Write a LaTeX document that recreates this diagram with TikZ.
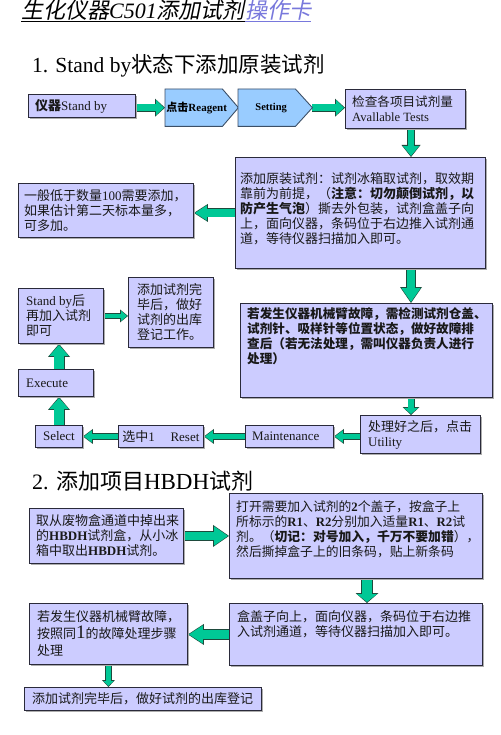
\documentclass[tikz,border=0pt]{standalone}
\usepackage{fontspec}
\setmainfont{Liberation Serif}
\newfontfamily\cjk{Noto Sans CJK SC}
\newfontfamily\cjkit{Noto Sans CJK SC}[FakeSlant=0.2]
\usetikzlibrary{arrows.meta,shadows,calc,backgrounds}
\definecolor{boxfill}{HTML}{CCCCFF}
\definecolor{boxline}{HTML}{2A2A3A}
\definecolor{pentfill}{HTML}{99CCFF}
\definecolor{pentline}{HTML}{3C4F66}
\definecolor{arrgreen}{HTML}{00C896}
\definecolor{arrline}{HTML}{1E4A3C}
\definecolor{ttblue}{HTML}{7878DC}
\newcommand\zh[1]{{\cjk #1}}
\newcommand\barr[5]{%
  \pgfmathsetmacro\bsA{#1-1.6}%
  \pgfmathsetmacro\bwA{#2-2.8}%
  \pgfmathsetmacro\blA{#3-2.2}%
  \draw[draw=arrline, line width=#1pt, -{Triangle[width=#2pt, length=#3pt, line width=0pt]}] #4 -- #5;
  \draw[draw=arrgreen, line width=\bsA pt, shorten >=1.1pt, -{Triangle[width=\bwA pt, length=\blA pt, line width=0pt]}] #4 -- #5;
}
\begin{document}
\begin{tikzpicture}[x=1pt,y=-1pt,
  box/.style={draw=boxline, line width=0.9pt, fill=boxfill, inner sep=0pt, anchor=north west,
    drop shadow={shadow xshift=1.3pt, shadow yshift=-1.3pt, fill=black!32, opacity=1}},
  txt/.style={inner sep=0pt, align=left, font=\fontsize{13}{15}\selectfont, text=black!90},
  pent/.style={draw=pentline, line width=0.9pt, fill=pentfill},
  hold/.style={inner sep=0pt, anchor=north west}]
\useasboundingbox (0,0) rectangle (500,735);
\begin{scope}[on background layer]
\fill[white] (0,0) rectangle (500,735);
\end{scope}

% title
\node[anchor=base west, inner sep=0pt, font=\fontsize{22}{26}\selectfont] (tA) at (21,19) {\cjkit 生化仪器{\rmfamily\itshape C501}添加试剂};
\node[anchor=base west, inner sep=0pt, font=\fontsize{22}{26}\selectfont, text=ttblue] (tB) at (tA.base east) {\cjkit 操作卡};
\draw[line width=1pt] ([yshift=-3pt]tA.base west) -- ([yshift=-3pt]tA.base east);
\draw[line width=1pt, ttblue] ([yshift=-3pt]tB.base west) -- ([yshift=-3pt]tB.base east);

% headings
\node[anchor=base west, inner sep=0pt, font=\fontsize{21.5}{26}\selectfont] (h1) at (32,73) {1. Stand by\zh{状态下添加原装试剂}};
\node[anchor=base west, inner sep=0pt, font=\fontsize{22}{26}\selectfont] (h2) at (32,489) {2. \zh{添加项目}{\fontsize{23}{26}\selectfont HBDH}\zh{试剂}};

% ---- section 1 ----
\node[box, minimum width=107pt, minimum height=23pt] (sb) at (28,94) {};
\node[txt, anchor=west] (sbT) at ([xshift=7pt]sb.west) {\textbf{\zh{仪器}}Stand by};

\node[hold, minimum width=57pt, minimum height=37pt] (reag) at (165,89) {};
\draw[pent] (reag.north west) -- (reag.north east) -- ([xshift=16pt]reag.east) -- (reag.south east) -- (reag.south west) -- cycle;
\node[inner sep=0pt, font=\fontsize{11}{13}\selectfont\bfseries] (reagT) at ([xshift=3pt]reag.center) {\zh{点击}Reagent};

\node[hold, minimum width=57pt, minimum height=37pt] (set) at (238,89) {};
\draw[pent] (set.north west) -- (set.north east) -- ([xshift=17pt]set.east) -- (set.south east) -- (set.south west) -- cycle;
\node[inner sep=0pt, font=\fontsize{10.5}{13}\selectfont\bfseries] (setT) at ([xshift=4.5pt]set.center) {Setting};
\coordinate (settip) at ([xshift=17pt]set.east);

\node[box, minimum width=120pt, minimum height=39pt] (chk) at (345,89) {};
\node[txt, anchor=west, font=\fontsize{12.6}{15}\selectfont] (chkT) at ([xshift=7pt]chk.west) {\zh{检查各项目试剂量}\\Avallable Tests};

\node[box, minimum width=250pt, minimum height=111pt] (add) at (235,157) {};
\node[txt, anchor=north west] (addT) at (240,172) {\zh{添加原装试剂：试剂冰箱取试剂，取效期}\\\zh{靠前为前提，（\textbf{注意：切勿颠倒试剂，以}}\\\zh{\textbf{防产生气泡}）撕去外包装，试剂盒盖子向}\\\zh{上，面向仪器，条码位于右边推入试剂通}\\\zh{道，等待仪器扫描加入即可。}};

\node[box, minimum width=175pt, minimum height=54pt] (low) at (18,183) {};
\node[txt, anchor=west] (lowT) at ([xshift=6pt]low.west) {\zh{一般低于数量}100\zh{需要添加，}\\\zh{如果估计第二天标本量多，}\\\zh{可多加。}};

\node[box, minimum width=252pt, minimum height=94pt] (flt) at (240,303) {};
\node[txt, anchor=north west, font=\fontsize{12.6}{15}\selectfont\bfseries] (fltT) at (247,307) {\zh{若发生仪器机械臂故障，需检测试剂仓盖、}\\\zh{试剂针、吸样针等位置状态，做好故障排}\\\zh{查后（若无法处理，需叫仪器负责人进行}\\\zh{处理）}};

\node[box, minimum width=85pt, minimum height=55pt] (stb) at (18,288) {};
\node[txt, anchor=west] (stbT) at ([xshift=8pt]stb.west) {Stand by\zh{后}\\\zh{再加入试剂}\\\zh{即可}};

\node[box, minimum width=85pt, minimum height=70pt] (dn) at (128,277) {};
\node[txt, anchor=west] (dnT) at ([xshift=9pt]dn.west) {\zh{添加试剂完}\\\zh{毕后，做好}\\\zh{试剂的出库}\\\zh{登记工作。}};

\node[box, minimum width=75pt, minimum height=27pt] (ex) at (18,369) {};
\node[txt, anchor=west] (exT) at ([xshift=8pt]ex.west) {Execute};

\node[box, minimum width=47pt, minimum height=22pt] (sel) at (35,425) {};
\node[txt] (selT) at (sel.center) {Select};

\node[box, minimum width=85pt, minimum height=22pt] (rst) at (118,425) {};
\node[txt] (rstT) at (rst.center) {\zh{选中}1\hspace{1.2em}Reset};

\node[box, minimum width=88pt, minimum height=22pt] (mnt) at (245,425) {};
\node[txt, anchor=west] (mntT) at ([xshift=7pt]mnt.west) {Maintenance};

\node[box, minimum width=120pt, minimum height=38pt] (utl) at (360,415) {};
\node[txt, anchor=west] (utlT) at ([xshift=8pt]utl.west) {\zh{处理好之后，点击}\\Utility};

% ---- section 2 ----
\node[box, minimum width=154pt, minimum height=55pt] (hba) at (29,508) {};
\node[txt, anchor=west] (hbaT) at ([xshift=7pt]hba.west) {\zh{取从废物盒通道中掉出来}\\\zh{的}\textbf{HBDH}\zh{试剂盒，从小冰}\\\zh{箱中取出}\textbf{HBDH}\zh{试剂。}};

\node[box, minimum width=253pt, minimum height=85pt] (hbb) at (229,493) {};
\node[txt, anchor=north west, font=\fontsize{12.8}{15}\selectfont] (hbbT) at (236,500) {\zh{打开需要加入试剂的}\textbf{2}\zh{个盖子，按盒子上}\\\zh{所标示的}\textbf{R1}\zh{、}\textbf{R2}\zh{分别加入适量}\textbf{R1}\zh{、}\textbf{R2}\zh{试}\\\zh{剂。（\textbf{切记：对号加入，千万不要加错}），}\\\zh{然后撕掉盒子上的旧条码，贴上新条码}};

\node[box, minimum width=253pt, minimum height=62pt] (hbc) at (229,603) {};
\node[txt, anchor=north west] (hbcT) at (237,610) {\zh{盒盖子向上，面向仪器，条码位于右边推}\\\zh{入试剂通道，等待仪器扫描加入即可。}};

\node[box, minimum width=158pt, minimum height=61pt] (hbd) at (29,603) {};
\node[txt, anchor=west, font=\fontsize{13}{17}\selectfont] (hbdT) at ([xshift=8pt]hbd.west) {\zh{若发生仪器机械臂故障，}\\\zh{按照同}{\fontsize{19}{17}\selectfont 1}\zh{的故障处理步骤}\\\zh{处理}};

\node[box, minimum width=237pt, minimum height=23pt] (fin) at (24,687) {};
\node[txt, anchor=west] (finT) at ([xshift=8pt]fin.west) {\zh{添加试剂完毕后，做好试剂的出库登记}};

% ---- arrows ----
\coordinate (cx) at (411,0);
\coordinate (cy) at (59,0);
\coordinate (cz) at (367,0);
\begin{scope}[on background layer]
\barr{8}{18}{10}{(sb.east |- reag.west)}{(reag.west)}
\barr{8}{18}{10}{(settip)}{(settip -| chk.west)}
\barr{8}{19}{12}{(chk.south -| cx)}{(add.north -| cx)}
\barr{9}{18}{14}{(add.west)}{(add.west -| low.east)}
\barr{10}{22}{16}{(add.south -| cx)}{(flt.north -| cx)}
\barr{7}{17}{8}{(flt.south -| cx)}{(utl.north -| cx)}
\barr{7}{15}{10}{(mnt.east -| utl.west)}{(mnt.east)}
\barr{7}{15}{10}{(mnt.west)}{(rst.east)}
\barr{7}{15}{10}{(rst.west)}{(sel.east)}
\barr{11}{22}{13}{(sel.north -| cy)}{(ex.south -| cy)}
\barr{11}{22}{13}{(ex.north -| cy)}{(stb.south -| cy)}
\barr{6}{13}{8}{(stb.east)}{(stb.east -| dn.west)}
\barr{10}{22}{16}{(hba.east)}{(hba.east -| hbb.west)}
\barr{12}{23}{10}{(hbb.south -| cz)}{(hbc.north -| cz)}
\barr{11}{21}{16}{(hbc.west)}{(hbc.west -| hbd.east)}
\barr{7}{13}{7}{(hbd.south)}{(hbd.south |- fin.north)}
\end{scope}
\end{tikzpicture}
\end{document}
